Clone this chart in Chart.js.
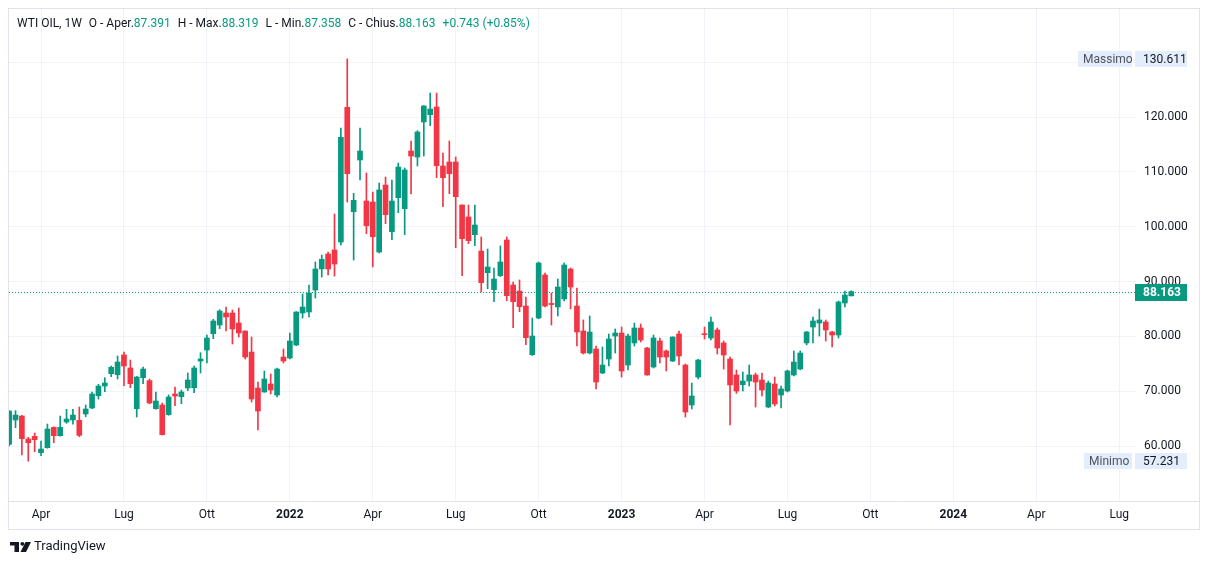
<!DOCTYPE html>
<html>
<head>
<meta charset="utf-8">
<title>WTI OIL 1W</title>
<script src="https://cdn.jsdelivr.net/npm/chart.js@4.4.1/dist/chart.umd.min.js"></script>
<style>
  html, body { margin: 0; padding: 0; background: #ffffff; }
  canvas { display: block; }
</style>
</head>
<body>
<canvas id="wtiChart" width="1209" height="564"></canvas>
<script>
// weekly candles, first one = week of 1 Mar 2021 (index 0)
const openVals = [60.3, 64.74, 65.47, 61.28, 61.76, 58.78, 59.7, 63.4, 61.88, 64.38,
  64.74, 64.68, 65.84, 66.93, 69.18, 70.94, 73.19, 73.0, 76.6, 74.23,
  66.8, 72.46, 71.92, 66.8, 67.48, 65.72, 69.48, 69.0, 70.58, 70.64,
  75.5, 77.51, 80.48, 82.07, 84.26, 84.26, 82.43, 80.97, 77.14, 70.58,
  69.85, 71.31, 69.3, 76.23, 76.05, 78.42, 84.26, 84.44, 88.45, 92.3,
  95.02, 95.75, 97.2, 121.77, 102.73, 112.16, 104.68, 104.5, 95.38, 107.6,
  99.09, 105.29, 103.28, 113.8, 112.71, 119.09, 120.43, 121.83, 111.07, 111.8,
  111.8, 103.95, 101.77, 98.54, 95.56, 91.61, 88.51, 91.06, 97.57, 89.36,
  88.27, 85.53, 76.66, 83.34, 91.19, 86.0, 85.35, 86.81, 92.28, 85.53,
  80.97, 76.96, 77.69, 73.31, 75.87, 80.06, 80.61, 74.77, 78.79, 81.52,
  77.87, 74.41, 79.15, 77.33, 75.5, 80.43, 74.77, 67.48, 72.58, 80.4,
  79.7, 81.16, 78.79, 75.87, 72.95, 71.18, 71.85, 72.95, 72.04, 67.11,
  71.31, 69.3, 70.03, 72.95, 74.04, 78.79, 81.7, 82.43, 82.61, 80.79,
  80.24, 86.08, 87.391];
const highVals = [66.4, 66.45, 65.6, 61.58, 62.37, 60.91, 64.01, 63.5, 65.47, 66.69,
  66.69, 67.11, 67.48, 69.85, 71.25, 72.46, 74.59, 76.41, 77.14, 75.68,
  72.7, 74.41, 72.22, 69.85, 67.84, 69.3, 70.76, 70.21, 73.31, 74.59,
  77.02, 80.24, 83.1, 84.86, 85.35, 84.8, 85.17, 81.0, 79.88, 71.67,
  73.68, 73.13, 74.23, 77.69, 80.61, 84.5, 87.72, 89.36, 93.56, 94.83,
  95.38, 102.31, 118.0, 130.611, 106.08, 118.0, 109.79, 106.32, 107.97, 109.06,
  108.51, 111.61, 110.7, 115.63, 117.51, 122.1, 124.38, 124.38, 113.44, 115.63,
  112.71, 104.0, 103.95, 103.95, 98.12, 95.93, 92.46, 96.48, 98.12, 89.91,
  90.28, 87.18, 83.34, 93.56, 91.55, 87.9, 90.46, 93.38, 92.46, 88.82,
  82.98, 83.71, 78.24, 78.06, 80.43, 81.34, 81.7, 80.4, 82.43, 82.25,
  78.0, 80.24, 79.7, 77.51, 79.9, 80.97, 74.96, 71.49, 75.8, 81.7,
  83.53, 81.52, 79.15, 76.23, 73.86, 73.5, 74.77, 73.31, 73.31, 71.85,
  72.58, 70.94, 73.86, 77.33, 77.33, 80.9, 83.53, 84.99, 82.98, 80.9,
  86.45, 88.27, 88.319];
const lowVals = [60.0, 63.35, 58.36, 57.231, 58.97, 58.24, 59.6, 60.61, 61.8, 64.13,
  64.0, 61.7, 65.35, 66.8, 68.57, 69.9, 72.64, 72.22, 71.0, 70.64,
  65.29, 71.37, 67.7, 66.7, 62.0, 65.6, 67.36, 67.72, 70.09, 69.73,
  73.31, 75.14, 79.58, 81.4, 80.97, 78.6, 79.88, 75.87, 68.02, 62.92,
  69.8, 69.48, 68.94, 75.14, 75.87, 78.3, 83.34, 83.53, 86.99, 90.8,
  91.2, 91.0, 96.66, 104.5, 93.92, 108.51, 98.72, 92.65, 95.2, 100.55,
  97.63, 102.55, 98.54, 105.96, 111.07, 112.89, 118.42, 108.94, 103.65, 106.02,
  96.17, 91.06, 96.9, 96.53, 88.15, 88.69, 86.32, 90.9, 86.5, 81.58,
  84.5, 78.48, 76.5, 83.2, 85.35, 82.07, 83.71, 86.45, 84.99, 78.24,
  76.78, 76.8, 70.4, 73.2, 74.59, 76.96, 72.58, 73.86, 78.24, 78.97,
  72.9, 74.23, 75.14, 73.68, 75.4, 74.77, 65.29, 66.75, 72.22, 79.51,
  79.33, 76.78, 74.04, 63.83, 69.6, 70.03, 70.94, 67.11, 69.12, 67.0,
  67.3, 66.93, 69.85, 72.8, 73.9, 78.42, 78.79, 80.06, 79.15, 78.06,
  79.7, 85.35, 87.358];
const closeVals = [66.38, 65.65, 61.34, 60.61, 61.15, 59.45, 63.1, 61.88, 63.4, 64.92,
  65.65, 61.95, 66.75, 69.48, 70.94, 71.49, 74.35, 75.32, 74.59, 71.37,
  72.58, 74.04, 67.84, 68.21, 62.07, 68.94, 69.12, 69.85, 72.04, 74.23,
  75.87, 79.7, 82.8, 84.62, 83.53, 81.34, 80.61, 76.23, 68.57, 66.38,
  72.22, 70.21, 74.04, 75.5, 79.15, 84.44, 85.35, 87.9, 92.28, 94.04,
  92.28, 93.19, 116.3, 109.67, 104.8, 113.8, 100.18, 98.17, 106.69, 102.19,
  104.68, 110.88, 110.34, 112.89, 117.27, 122.01, 121.46, 111.13, 108.94, 109.67,
  105.47, 97.81, 97.45, 100.31, 89.79, 92.65, 90.46, 93.56, 87.42, 86.32,
  85.41, 79.76, 80.06, 93.38, 85.53, 85.8, 89.0, 93.01, 89.0, 80.79,
  76.96, 80.79, 71.67, 74.77, 79.51, 80.61, 73.68, 80.06, 81.52, 79.33,
  72.95, 79.7, 76.23, 76.23, 79.88, 76.41, 66.2, 69.12, 75.68, 80.3,
  82.61, 77.87, 76.6, 71.13, 70.03, 71.85, 72.95, 71.67, 70.21, 71.49,
  67.66, 70.4, 73.68, 75.32, 76.96, 80.79, 82.8, 82.98, 81.16, 80.24,
  86.26, 87.54, 88.163];

// time axis: week index of each label
const xTickWeeks = [5, 18, 31, 44, 57, 70, 83, 96, 109, 122, 135, 148, 161, 174];
const xTickLabels = ['Apr', 'Lug', 'Ott', '2022', 'Apr', 'Lug', 'Ott', '2023', 'Apr', 'Lug', 'Ott', '2024', 'Apr', 'Lug'];
const yTickVals = [60, 70, 80, 90, 100, 110, 120, 130];

const lastPrice = 88.163;
const maxPrice = 130.611;
const minPrice = 57.231;

const UP = '#089981';
const DOWN = '#f23645';
const TEXT = '#131722';
const GRID = '#f0f3fa';
const FONT = 'Roboto, "Noto Sans", sans-serif';

const weeks = openVals.map((v, i) => i);
const candleColors = weeks.map(i => closeVals[i] >= openVals[i] ? UP : DOWN);

// header, price labels, border and logo
const overlay = {
  id: 'overlay',
  afterDatasetsDraw(chart) {
    const ctx = chart.ctx;
    const area = chart.chartArea;
    const y = chart.scales.y;
    const py = y.getPixelForValue(lastPrice);
    ctx.save();
    ctx.strokeStyle = UP;
    ctx.lineWidth = 1;
    ctx.setLineDash([1, 2]);
    ctx.beginPath();
    ctx.moveTo(area.left, Math.round(py) + 0.5);
    ctx.lineTo(area.right, Math.round(py) + 0.5);
    ctx.stroke();
    ctx.restore();
  },
  afterDraw(chart) {
    const ctx = chart.ctx;
    const y = chart.scales.y;
    const area = chart.chartArea;
    ctx.save();

    // frame + time axis separator
    ctx.strokeStyle = '#e0e3eb';
    ctx.lineWidth = 1;
    ctx.strokeRect(8.5, 8.5, 1191, 521);
    ctx.beginPath();
    ctx.moveTo(9, area.bottom + 0.5);
    ctx.lineTo(1199, area.bottom + 0.5);
    ctx.stroke();

    // header
    ctx.font = '12px ' + FONT;
    ctx.textBaseline = 'middle';
    ctx.textAlign = 'left';
    const parts = [
      ['WTI OIL, 1W', TEXT, 7],
      ['O - Aper.', TEXT, 0], ['87.391', UP, 7],
      ['H - Max.', TEXT, 0], ['88.319', UP, 7],
      ['L - Min.', TEXT, 0], ['87.358', UP, 7],
      ['C - Chius.', TEXT, 0], ['88.163', UP, 7],
      ['+0.743 (+0.85%)', UP, 0]
    ];
    let hx = 17;
    parts.forEach(p => {
      ctx.fillStyle = p[1];
      ctx.fillText(p[0], hx, 24);
      hx += ctx.measureText(p[0]).width + p[2];
    });

    // last price box
    const lp = Math.round(y.getPixelForValue(lastPrice));
    ctx.fillStyle = UP;
    ctx.fillRect(1135, lp - 8, 52, 17);
    ctx.fillStyle = '#ffffff';
    ctx.font = 'bold 12px ' + FONT;
    ctx.fillText(lastPrice.toFixed(3), 1143, lp + 0.5);

    // max / min labels
    const tag = (name, value, nameLeft) => {
      const p = Math.round(y.getPixelForValue(value));
      ctx.fillStyle = '#e3edfb';
      ctx.fillRect(nameLeft, p - 8, 1132 - nameLeft, 16);
      ctx.fillRect(1135, p - 8, 52, 16);
      ctx.font = '12px ' + FONT;
      ctx.fillStyle = '#50535e';
      ctx.fillText(name, nameLeft + 5, p + 0.5);
      ctx.fillStyle = TEXT;
      ctx.fillText(value.toFixed(3), 1143, p + 0.5);
    };
    tag('Massimo', maxPrice, 1078);
    tag('Minimo', minPrice, 1084);

    // TradingView mark
    ctx.fillStyle = TEXT;
    ctx.fillRect(10, 542, 9, 3.5);
    ctx.fillRect(14.5, 542, 4.5, 10);
    ctx.beginPath();
    ctx.arc(22.3, 543.8, 1.9, 0, Math.PI * 2);
    ctx.fill();
    ctx.beginPath();
    ctx.moveTo(25.5, 542);
    ctx.lineTo(31, 542);
    ctx.lineTo(26, 552);
    ctx.lineTo(20.5, 552);
    ctx.closePath();
    ctx.fill();
    ctx.font = '13px ' + FONT;
    ctx.fillStyle = TEXT;
    ctx.fillText('TradingView', 34, 547);
    ctx.restore();
  }
};

new Chart(document.getElementById('wtiChart').getContext('2d'), {
  type: 'bar',
  data: {
    datasets: [
      {
        label: 'body',
        data: weeks.map(i => ({ x: i, y: [openVals[i], closeVals[i]] })),
        backgroundColor: candleColors,
        barThickness: 5,
        minBarLength: 1,
        grouped: false
      },
      {
        label: 'wick',
        data: weeks.map(i => ({ x: i, y: [lowVals[i], highVals[i]] })),
        backgroundColor: candleColors,
        barThickness: 1,
        grouped: false
      }
    ]
  },
  options: {
    responsive: false,
    devicePixelRatio: 1,
    animation: false,
    events: [],
    layout: { padding: { left: 9, top: 9, right: 10, bottom: 35 } },
    plugins: { legend: { display: false }, tooltip: { enabled: false } },
    scales: {
      x: {
        type: 'linear',
        min: -0.02,
        max: 176.63,
        offset: false,
        grid: { color: GRID, offset: false, drawTicks: false },
        border: { display: false },
        afterBuildTicks: scale => { scale.ticks = xTickWeeks.map(v => ({ value: v })); },
        afterFit: scale => { scale.height = 28; scale.paddingLeft = 0; scale.paddingRight = 0; },
        ticks: {
          autoSkip: false,
          maxRotation: 0,
          padding: 7,
          color: TEXT,
          font: c => ({ family: FONT, size: 12, weight: /^\d+$/.test(xTickLabels[c.index]) ? 'bold' : 'normal' }),
          callback: (v, i) => xTickLabels[i]
        }
      },
      y: {
        position: 'right',
        min: 49.97,
        max: 139.7,
        beginAtZero: false,
        grid: { color: GRID, drawTicks: false },
        border: { display: false },
        afterBuildTicks: scale => { scale.ticks = yTickVals.map(v => ({ value: v })); },
        afterFit: scale => { scale.width = 63; scale.paddingTop = 0; scale.paddingBottom = 0; },
        ticks: {
          padding: 8,
          color: TEXT,
          font: { family: FONT, size: 12 },
          callback: v => v === 130 ? '' : v.toFixed(3)
        }
      }
    }
  },
  plugins: [overlay]
});
</script>
</body>
</html>
